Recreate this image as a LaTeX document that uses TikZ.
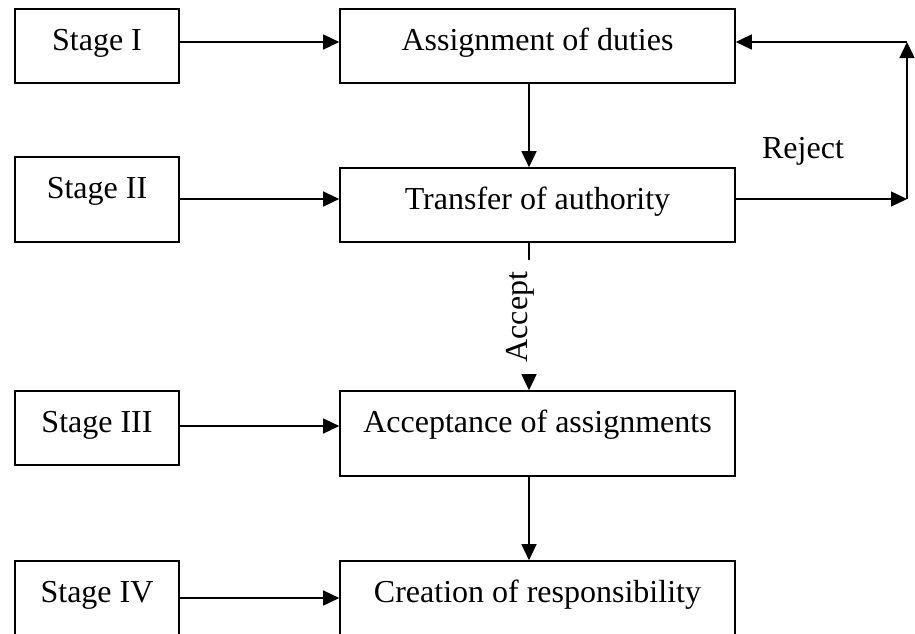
\documentclass[tikz,border=0pt]{standalone}
\usepackage{fontspec}
\setmainfont{Liberation Serif}
\usetikzlibrary{arrows.meta}
\begin{document}
\begin{tikzpicture}[x=1pt,y=-1pt,
  box/.style={draw, line width=1.6pt, inner xsep=0pt, inner ysep=0pt, text height=41pt, align=center},
  lbl/.style={inner sep=0pt},
  arr/.style={line width=1.4pt, -{Triangle[length=16pt,width=15pt]}},
  every node/.append style={font=\fontsize{32}{38}\selectfont}]
\useasboundingbox (0,0) rectangle (915,633);
\clip (0,0) rectangle (915,633);
% stage boxes
\node[box, minimum width=164pt, text depth=33pt] (s1) at (97,46) {Stage I};
\node[box, minimum width=164pt, text depth=44pt] (s2) at (97,199.5) {Stage II};
\node[box, minimum width=164pt, text depth=33pt] (s3) at (97,428) {Stage III};
\node[box, minimum width=164pt, text depth=39pt] (s4) at (97,601) {Stage IV};
% main boxes
\node[box, minimum width=395pt, text depth=33pt] (a1) at (537.5,46) {Assignment of duties};
\node[box, minimum width=395pt, text depth=33pt] (a2) at (537.5,205) {Transfer of authority};
\node[box, minimum width=395pt, text depth=44pt] (a3) at (537.5,433.5) {Acceptance of assignments};
\node[box, minimum width=395pt, text depth=39pt] (a4) at (537.5,601) {Creation of responsibility};
% helper coordinates
\coordinate (v) at (529,0);
\coordinate (r1) at (0,42);
\coordinate (r2) at (0,199);
\coordinate (r3) at (0,426);
\coordinate (r4) at (0,598);
\coordinate (c1) at (907,199);
\coordinate (c2) at (907,42);
% horizontal arrows
\draw[arr] (s1.east |- r1) -- (a1.west |- r1);
\draw[arr] (s2.east |- r2) -- (a2.west |- r2);
\draw[arr] (s3.east |- r3) -- (a3.west |- r3);
\draw[arr] (s4.east |- r4) -- (a4.west |- r4);
% vertical arrows
\draw[arr] (a1.south -| v) -- (a2.north -| v);
\draw[arr] (a2.south -| v) -- (a3.north -| v);
\draw[arr] (a3.south -| v) -- (a4.north -| v);
% reject loop
\draw[arr] (a2.east |- r2) -- (c1);
\draw[arr] (c1) -- (c2);
\draw[arr] (c2) -- (a1.east |- r1);
% labels
\node[lbl] (rej) at (803,151) {Reject};
\node[fill=white, rotate=90, anchor=base, inner xsep=12pt, inner ysep=3pt] (acc) at (527,317) {Accept};
\end{tikzpicture}
\end{document}
